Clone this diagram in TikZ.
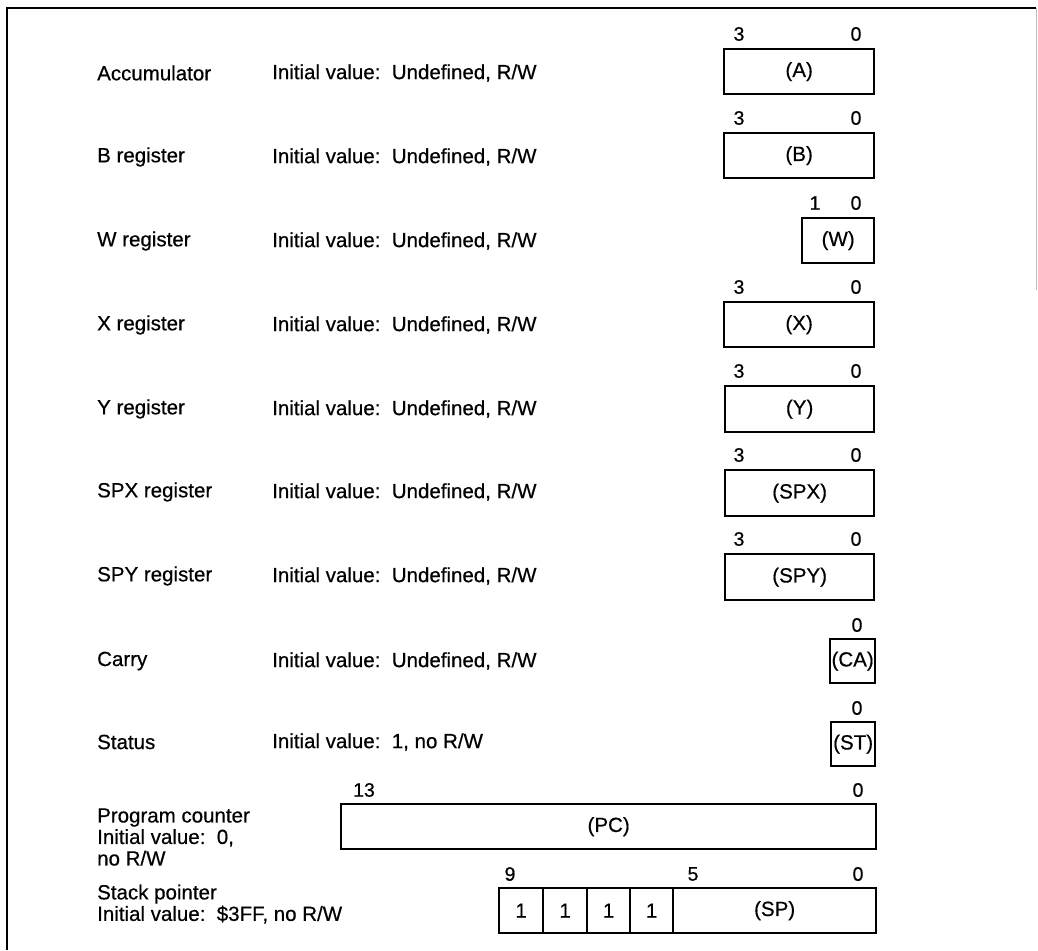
\documentclass[tikz,border=0pt]{standalone}
\usepackage{fontspec}
\setmainfont{Liberation Sans}[BoldFont=Liberation Sans, BoldFeatures={FakeBold=0.5}]
\begin{document}
\begin{tikzpicture}[x=1pt,y=-1pt,
  reg/.style={draw, line width=2.3pt, anchor=north west, inner sep=0pt,
    font=\fontsize{20.5}{24}\bfseries},
  bitno/.style={inner sep=0pt, font=\fontsize{19.5}{22}\bfseries},
  lbl/.style={anchor=west, inner sep=0pt, font=\fontsize{20.5}{24}\bfseries},
  lbl2/.style={anchor=west, inner sep=0pt, align=left, font=\fontsize{20.5}{21.5}\bfseries}]
\useasboundingbox (0,0) rectangle (1038,950);
% frame
\draw[line width=2.2pt] (7,950) -- (7,8) -- (1036,8);
\draw[line width=1pt, gray!50] (1036,8) -- (1036,290);

% Accumulator
\node[lbl] (nA) at (97,73) {Accumulator};
\node[lbl] (iA) at (272,73) {Initial value:\ \ Undefined, R/W};
\node[reg, minimum width=150pt, minimum height=45pt] (A) at (723,48) {(A)};
\node[bitno] (A3) at (739,34) {3};
\node[bitno] (A0) at (856,34) {0};
% B
\node[lbl] (nB) at (97,157) {B register};
\node[lbl] (iB) at (272,157) {Initial value:\ \ Undefined, R/W};
\node[reg, minimum width=150pt, minimum height=45pt] (B) at (723,132) {(B)};
\node[bitno] (B3) at (739,118) {3};
\node[bitno] (B0) at (856,118) {0};
% W
\node[lbl] (nW) at (97,241) {W register};
\node[lbl] (iW) at (272,241) {Initial value:\ \ Undefined, R/W};
\node[reg, minimum width=72pt, minimum height=45pt] (W) at (801,217) {(W)};
\node[bitno] (W1) at (815,203) {1};
\node[bitno] (W0) at (856,203) {0};
% X
\node[lbl] (nX) at (97,325) {X register};
\node[lbl] (iX) at (272,325) {Initial value:\ \ Undefined, R/W};
\node[reg, minimum width=150pt, minimum height=45pt] (X) at (723,301) {(X)};
\node[bitno] (X3) at (739,287) {3};
\node[bitno] (X0) at (856,287) {0};
% Y
\node[lbl] (nY) at (97,409) {Y register};
\node[lbl] (iY) at (272,409) {Initial value:\ \ Undefined, R/W};
\node[reg, minimum width=149pt, minimum height=46pt] (Y) at (724,385) {(Y)};
\node[bitno] (Y3) at (739,371) {3};
\node[bitno] (Y0) at (856,371) {0};
% SPX
\node[lbl] (nSPX) at (97,492) {SPX register};
\node[lbl] (iSPX) at (272,492) {Initial value:\ \ Undefined, R/W};
\node[reg, minimum width=149pt, minimum height=46pt] (SPX) at (724,469) {(SPX)};
\node[bitno] (SPX3) at (739,455) {3};
\node[bitno] (SPX0) at (856,455) {0};
% SPY
\node[lbl] (nSPY) at (97,576) {SPY register};
\node[lbl] (iSPY) at (272,576) {Initial value:\ \ Undefined, R/W};
\node[reg, minimum width=149pt, minimum height=46pt] (SPY) at (724,553) {(SPY)};
\node[bitno] (SPY3) at (739,539) {3};
\node[bitno] (SPY0) at (856,539) {0};
% Carry
\node[lbl] (nCA) at (97,661) {Carry};
\node[lbl] (iCA) at (272,661) {Initial value:\ \ Undefined, R/W};
\node[reg, minimum width=45pt, minimum height=44pt] (CA) at (829,638) {(CA)};
\node[bitno] (CA0) at (857,625) {0};
% Status
\node[lbl] (nST) at (97,742) {Status};
\node[lbl] (iST) at (272,742) {Initial value:\ \ 1, no R/W};
\node[reg, minimum width=44pt, minimum height=44pt] (ST) at (830,721) {(ST)};
\node[bitno] (ST0) at (857,708) {0};
% Program counter
\node[lbl2] (nPC) at (97,837) {Program counter\\Initial value:\ \ 0,\\no R/W};
\node[reg, minimum width=535pt, minimum height=45pt] (PC) at (340,803) {(PC)};
\node[bitno] (PC13) at (364,790) {13};
\node[bitno] (PC0) at (858,790) {0};
% Stack pointer
\node[lbl2] (nSP) at (97,904) {Stack pointer\\Initial value:\ \ \$3FF, no R/W};
\node[reg, minimum width=44pt, minimum height=45pt] (S9) at (498,887) {1};
\node[reg, minimum width=44pt, minimum height=45pt] (S8) at (542,887) {1};
\node[reg, minimum width=43pt, minimum height=45pt] (S7) at (586,887) {1};
\node[reg, minimum width=43pt, minimum height=45pt] (S6) at (629,887) {1};
\node[reg, minimum width=203pt, minimum height=45pt] (SP) at (672,887) {(SP)};
\node[bitno] (SP9) at (510,874) {9};
\node[bitno] (SP5) at (693,874) {5};
\node[bitno] (SP0) at (858,874) {0};
\end{tikzpicture}
\end{document}
